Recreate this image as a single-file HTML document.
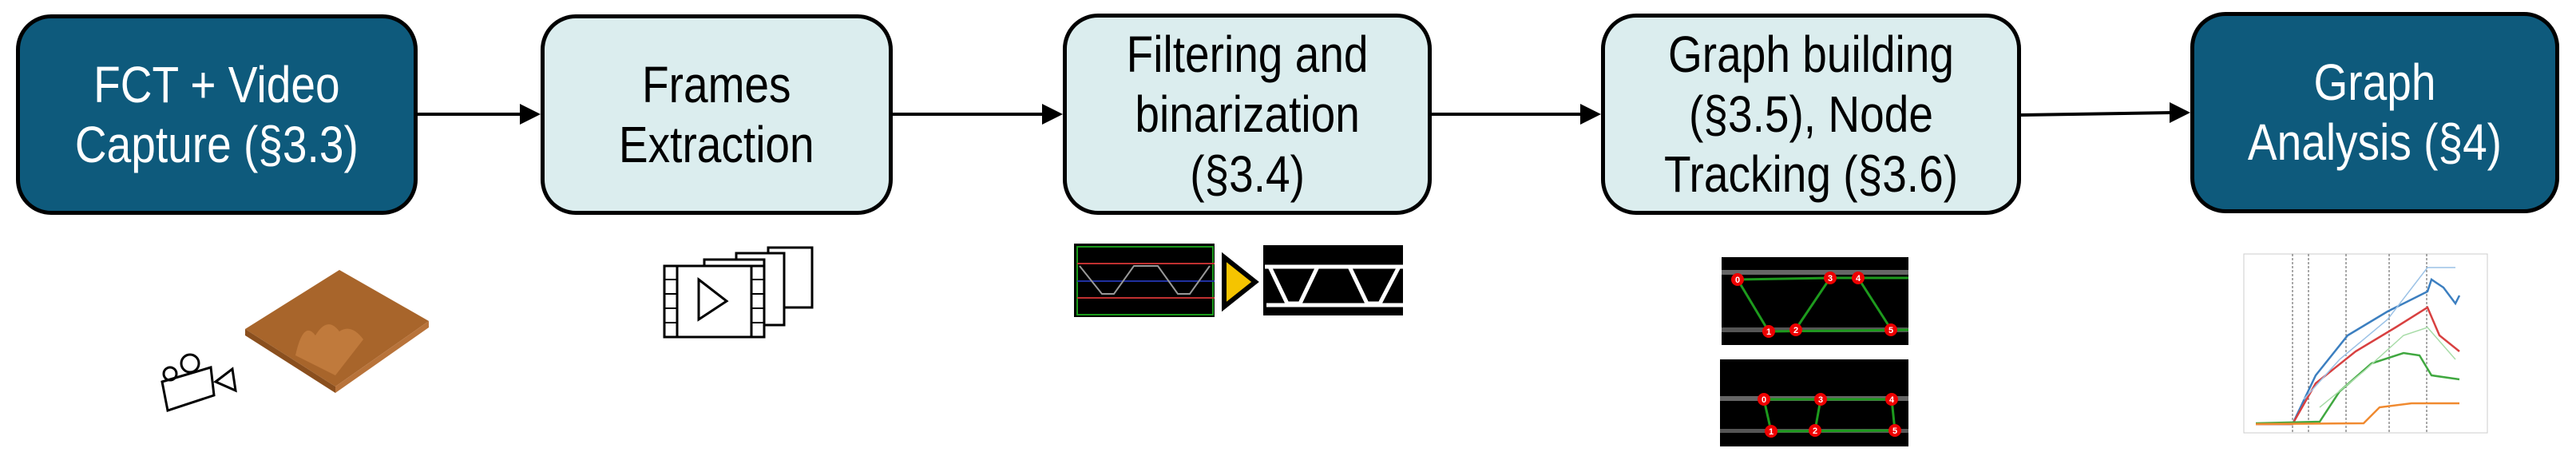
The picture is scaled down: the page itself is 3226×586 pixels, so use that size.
<!DOCTYPE html>
<html><head><meta charset="utf-8"><style>
html,body{margin:0;padding:0;background:#fff;}
body{width:3226px;height:586px;position:relative;overflow:hidden;font-family:"Liberation Sans",sans-serif;}
.box{position:absolute;box-sizing:border-box;border:5px solid #000;border-radius:44px;display:flex;align-items:center;justify-content:center;text-align:center;}
.dark{background:#0e5a7c;color:#fff;}
.light{background:#dbedee;color:#000;}
.t{font-size:64px;line-height:75px;transform:scaleX(0.86);white-space:nowrap;}
svg{position:absolute;left:0;top:0;}
</style></head><body>
<div class="box dark" style="left:20px;top:18px;width:503px;height:251px;"><div class="t">FCT + Video<br>Capture (§3.3)</div></div>
<div class="box light" style="left:677px;top:18px;width:441px;height:251px;"><div class="t">Frames<br>Extraction</div></div>
<div class="box light" style="left:1331px;top:17px;width:462px;height:252px;"><div class="t">Filtering and<br>binarization<br>(§3.4)</div></div>
<div class="box light" style="left:2005px;top:17px;width:526px;height:252px;"><div class="t">Graph building<br>(§3.5), Node<br>Tracking (§3.6)</div></div>
<div class="box dark" style="left:2743px;top:15px;width:462px;height:252px;"><div class="t">Graph<br>Analysis (§4)</div></div>
<svg width="3226" height="586" viewBox="0 0 3226 586">
<g stroke="#000" stroke-width="4" fill="none">
<line x1="523" y1="143" x2="655" y2="143"/>
<line x1="1118" y1="143" x2="1310" y2="143"/>
<line x1="1793" y1="143" x2="1984" y2="143"/>
<line x1="2531" y1="144" x2="2722" y2="141"/>
</g>
<g fill="#000">
<polygon points="651,130 677,143 651,156"/>
<polygon points="1305,130 1331,143 1305,156"/>
<polygon points="1979,130 2005,143 1979,156"/>
<polygon points="2717,128 2743,141 2717,154"/>
</g>
<!-- wood board -->
<polygon points="425,338 537,402 420,484 307,412" fill="#a8652b"/>
<polygon points="307,412 420,484 420,492 307,420" fill="#8a4f1e"/>
<polygon points="420,484 537,402 537,410 420,492" fill="#b8733a"/>
<path d="M370,445 Q380,400 395,420 Q410,395 425,415 Q440,405 455,425 L420,470 Z" fill="#c07a3c"/>
<!-- camera -->
<g stroke="#000" stroke-width="3" fill="none">
<polygon points="203,478 264,460 268,495 210,514"/>
<circle cx="213" cy="468" r="8"/><circle cx="238" cy="455" r="11"/>
<polygon points="270,478 291,462 295,489"/>
</g>
<!-- film frames -->
<g stroke="#000" stroke-width="3" fill="#fff">
<rect x="962" y="310" width="55" height="75"/>
<rect x="922" y="317" width="60" height="90"/>
<rect x="882" y="325" width="75" height="95"/>
<rect x="832" y="333" width="125" height="89"/>
<rect x="848" y="333" width="93" height="89"/>
<polygon points="875,350 910,377 875,400"/>
</g>
<g stroke="#000" stroke-width="2"><line x1="832" y1="350" x2="848" y2="350"/><line x1="832" y1="368" x2="848" y2="368"/><line x1="832" y1="386" x2="848" y2="386"/><line x1="832" y1="404" x2="848" y2="404"/><line x1="941" y1="350" x2="957" y2="350"/><line x1="941" y1="368" x2="957" y2="368"/><line x1="941" y1="386" x2="957" y2="386"/><line x1="941" y1="404" x2="957" y2="404"/></g>
<!-- filter images -->
<rect x="1345" y="305" width="176" height="92" fill="#000"/>
<g fill="none" stroke-width="2">
<rect x="1349" y="309" width="170" height="85" stroke="#1a9a1a"/>
<line x1="1349" y1="330" x2="1521" y2="330" stroke="#c03030"/>
<line x1="1349" y1="373" x2="1521" y2="373" stroke="#c03030"/>
<line x1="1349" y1="352" x2="1521" y2="352" stroke="#2030a0"/>
<path d="M1352,333 L1380,368 L1395,368 L1420,333 L1450,333 L1475,368 L1490,368 L1515,333" stroke="#999"/>
</g>
<polygon points="1533,322 1572,353 1533,384" fill="#f5c400" stroke="#000" stroke-width="6"/>
<rect x="1582" y="307" width="175" height="88" fill="#000"/>
<path d="M1584,334 L1757,334 M1590,334 L1612,380 L1628,380 L1650,334 M1690,334 L1712,380 L1728,380 L1752,334 M1586,382 L1757,382" stroke="#fff" stroke-width="5" fill="none"/>
<!-- graph images -->
<rect x="2156" y="322" width="234" height="110" fill="#000"/>
<rect x="2156" y="338" width="234" height="6" fill="#666"/>
<rect x="2156" y="410" width="234" height="6" fill="#555"/>
<path d="M2176,350 L2292,348 L2390,348 M2176,350 L2215,415 M2249,412 L2292,348 M2327,348 L2368,412 M2215,415 L2390,413" stroke="#1d9a1d" stroke-width="3" fill="none"/>
<g fill="#e00"><circle cx="2176" cy="350" r="8"/><circle cx="2292" cy="348" r="8"/><circle cx="2327" cy="348" r="8"/><circle cx="2215" cy="415" r="8"/><circle cx="2249" cy="413" r="8"/><circle cx="2368" cy="413" r="8"/></g>
<rect x="2154" y="450" width="236" height="109" fill="#000"/>
<rect x="2154" y="496" width="236" height="6" fill="#666"/>
<rect x="2154" y="537" width="236" height="5" fill="#555"/>
<path d="M2209,500 L2369,500 M2218,540 L2373,539 M2209,500 L2218,540 M2280,500 L2273,539 M2369,500 L2373,539" stroke="#1d9a1d" stroke-width="3" fill="none"/>
<g fill="#e00"><circle cx="2209" cy="500" r="8"/><circle cx="2280" cy="500" r="8"/><circle cx="2369" cy="500" r="8"/><circle cx="2218" cy="540" r="8"/><circle cx="2273" cy="539" r="8"/><circle cx="2373" cy="539" r="8"/></g>
<g font-family="Liberation Sans,sans-serif" font-size="11" font-weight="bold" fill="#fff" text-anchor="middle">
<text x="2176" y="354">0</text><text x="2292" y="352">3</text><text x="2327" y="352">4</text><text x="2215" y="419">1</text><text x="2249" y="417">2</text><text x="2368" y="417">5</text>
<text x="2209" y="504">0</text><text x="2280" y="504">3</text><text x="2369" y="504">4</text><text x="2218" y="544">1</text><text x="2273" y="543">2</text><text x="2373" y="543">5</text>
</g>
<!-- plot -->
<rect x="2810" y="318" width="305" height="224" fill="#fff" stroke="#ccc"/>
<g stroke="#555" stroke-width="1" stroke-dasharray="3,2"><line x1="2871" y1="318" x2="2871" y2="542"/><line x1="2938" y1="318" x2="2938" y2="542"/><line x1="3039" y1="318" x2="3039" y2="542"/><line x1="2891" y1="318" x2="2891" y2="542"/><line x1="2992" y1="318" x2="2992" y2="542"/></g>
<path d="M2825,531 L2871,531 L2900,470 L2940,420 L2990,390 L3040,365 L3045,350 L3060,360 L3075,380 L3080,370" stroke="#3c7fc0" stroke-width="2.5" fill="none"/>
<path d="M2825,531 L2871,531 L2900,480 L2950,440 L3000,410 L3040,385 L3055,420 L3080,440" stroke="#d84040" stroke-width="2.5" fill="none"/>
<path d="M2825,530 L2905,528 L2930,490 L2970,455 L3010,442 L3030,445 L3045,470 L3080,475" stroke="#40a840" stroke-width="2.5" fill="none"/>
<path d="M2825,531 L2960,530 L2980,510 L3020,505 L3080,505" stroke="#f08a30" stroke-width="2.5" fill="none"/>
<path d="M2885,500 L2930,450 L2990,400 L3040,335 L3075,335" stroke="#9cc2e6" stroke-width="1.5" fill="none"/>
<path d="M2905,510 L2960,465 L3010,420 L3040,410 L3075,450" stroke="#a8dca8" stroke-width="1.5" fill="none"/>
</svg>
</body></html>
